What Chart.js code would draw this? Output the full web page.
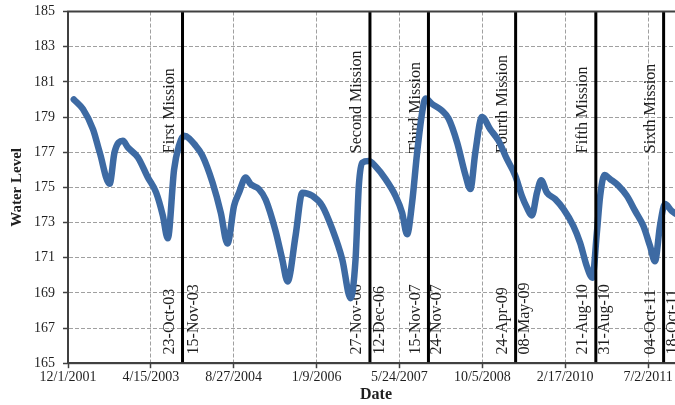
<!DOCTYPE html>
<html lang="en">
<head>
  <meta charset="UTF-8" />
  <title>Water Level</title>
  <script src="https://cdn.jsdelivr.net/npm/chart.js"></script>
  <style>
    html, body {
      margin: 0;
      padding: 0;
      background: #ffffff;
      overflow: hidden;
    }
    .wrap {
      width: 700px;
      height: 405px;
    }
  </style>
</head>
<body>
  <div class="wrap"><canvas id="levelChart"></canvas></div>

  <script>
    // water level readings
    const dates = [
      '2002-01-05', '2002-03-01', '2002-05-01', '2002-06-10', '2002-08-09', '2002-09-08',
      '2002-10-28', '2002-11-27', '2003-01-27', '2003-03-28', '2003-05-17', '2003-06-26',
      '2003-07-26', '2003-09-02', '2003-10-01', '2003-11-01', '2004-01-11', '2004-02-20',
      '2004-04-21', '2004-06-10', '2004-07-20', '2004-08-29', '2004-09-28', '2004-11-07',
      '2004-12-07', '2005-01-26', '2005-03-08', '2005-05-07', '2005-06-16', '2005-07-18',
      '2005-09-04', '2005-10-15', '2005-12-14', '2006-02-12', '2006-04-14', '2006-06-13',
      '2006-08-02', '2006-09-01', '2006-09-21', '2006-10-11', '2006-11-20', '2006-12-30',
      '2007-03-01', '2007-04-30', '2007-06-09', '2007-07-09', '2007-08-08', '2007-09-08',
      '2007-10-08', '2007-10-28', '2007-12-07', '2008-02-05', '2008-03-16', '2008-05-06',
      '2008-06-25', '2008-07-25', '2008-08-24', '2008-10-03', '2008-11-22', '2009-01-11',
      '2009-03-03', '2009-04-22', '2009-06-01', '2009-07-01', '2009-07-31', '2009-08-31',
      '2009-09-25', '2009-10-30', '2009-12-19', '2010-02-07', '2010-04-08', '2010-05-18',
      '2010-06-28', '2010-07-31', '2010-08-27', '2010-09-16', '2010-10-12', '2010-11-15',
      '2011-01-04', '2011-02-24', '2011-04-15', '2011-06-04', '2011-07-14', '2011-08-13',
      '2011-09-12', '2011-10-12', '2011-11-22', '2012-01-20'
    ];
    const levels = [
      180.0, 179.45, 178.3, 177.0, 175.2, 177.0,
      177.65, 177.27, 176.7, 175.56, 174.7, 173.4,
      172.1, 176.0, 177.36, 177.93, 177.36, 176.8,
      175.27, 173.56, 171.8, 173.95, 174.7, 175.56,
      175.18, 174.9, 174.3, 172.5, 170.9, 169.65,
      172.24, 174.7, 174.52, 173.95, 172.62, 170.9,
      168.7, 170.9, 175.1, 176.4, 176.5, 176.2,
      175.47, 174.52, 173.56, 172.33, 174.1, 177.0,
      179.26, 180.05, 179.74, 179.36, 178.9, 177.55,
      175.7, 174.9, 177.0, 179.0, 178.3, 177.65,
      176.6, 175.66, 174.5, 173.85, 173.4, 174.7,
      175.4, 174.7, 174.33, 173.76, 172.8, 171.85,
      170.5, 169.86, 172.4, 174.5, 175.7, 175.47,
      175.1, 174.52, 173.66, 172.8, 171.66, 170.8,
      172.8, 174.05, 173.66, 173.3
    ];

    const xTickLabels = ['12/1/2001', '4/15/2003', '8/27/2004', '1/9/2006', '5/24/2007', '10/5/2008', '2/17/2010', '7/2/2011'];
    const xEnd = '2/4/2012';
    const yMin = 165, yMax = 185, yStep = 2;

    const missionNames = ['First Mission', 'Second Mission', 'Third Mission', 'Fourth Mission', 'Fifth Mission', 'Sixth Mission'];
    const missionStart = ['2003-10-23', '2006-11-27', '2007-11-15', '2009-04-24', '2010-08-21', '2011-10-04'];
    const missionEnd = ['2003-11-15', '2006-12-12', '2007-11-24', '2009-05-08', '2010-08-31', '2011-10-18'];
    const startLabels = ['23-Oct-03', '27-Nov-06', '15-Nov-07', '24-Apr-09', '21-Aug-10', '04-Oct-11'];
    const endLabels = ['15-Nov-03', '12-Dec-06', '24-Nov-07', '08-May-09', '31-Aug-10', '18-Oct-11'];

    // spreadsheet-style day numbers
    function isoToSerial(s) {
      const [y, m, d] = s.split('-').map(Number);
      return Date.UTC(y, m - 1, d) / 86400000 + 25569;
    }
    function mdyToSerial(s) {
      const [m, d, y] = s.split('/').map(Number);
      return Date.UTC(y, m - 1, d) / 86400000 + 25569;
    }
    function serialToMdy(v) {
      const dt = new Date((v - 25569) * 86400000);
      return (dt.getUTCMonth() + 1) + '/' + dt.getUTCDate() + '/' + dt.getUTCFullYear();
    }

    const serif = "'Liberation Serif', 'Times New Roman', serif";
    const textColor = '#1f1f1f';
    const axisColor = '#404040';

    Chart.defaults.font.family = serif;
    Chart.defaults.color = textColor;

    const missionMarks = {
      id: 'missionMarks',
      beforeDatasetsDraw(chart) {
        const { ctx, scales: { x, y } } = chart;
        ctx.save();
        ctx.font = '16px ' + serif;
        ctx.fillStyle = textColor;
        ctx.textAlign = 'left';
        ctx.textBaseline = 'middle';
        const put = (text, px, py) => {
          ctx.save();
          ctx.translate(px, py);
          ctx.rotate(-Math.PI / 2);
          ctx.fillText(text, 0, 0);
          ctx.restore();
        };
        missionNames.forEach((name, i) => {
          const sx = x.getPixelForValue(isoToSerial(missionStart[i]));
          const ex = x.getPixelForValue(isoToSerial(missionEnd[i]));
          put(name, sx - 13, y.getPixelForValue(177) + 1);
          put(startLabels[i], sx - 13, y.getPixelForValue(165.5));
          put(endLabels[i], ex + 7, y.getPixelForValue(165.5));
        });
        ctx.restore();
      },
      afterDatasetsDraw(chart) {
        const { ctx, chartArea: a, scales: { x } } = chart;
        ctx.save();
        ctx.strokeStyle = '#000000';
        ctx.lineWidth = 3;
        missionStart.forEach(d => {
          const px = x.getPixelForValue(isoToSerial(d));
          ctx.beginPath();
          ctx.moveTo(px, a.top);
          ctx.lineTo(px, a.bottom);
          ctx.stroke();
        });
        ctx.strokeStyle = axisColor;
        ctx.lineWidth = 2;
        ctx.strokeRect(a.left, a.top, a.right - a.left, a.bottom - a.top);
        ctx.restore();
      }
    };

    const ctx = document.getElementById('levelChart').getContext('2d');
    new Chart(ctx, {
      type: 'line',
      data: {
        datasets: [{
          label: 'Water Level',
          data: dates.map((d, i) => ({ x: isoToSerial(d), y: levels[i] })),
          borderColor: '#3d6aa3',
          borderWidth: 6.5,
          pointRadius: 0,
          cubicInterpolationMode: 'monotone',
          borderCapStyle: 'round',
          borderJoinStyle: 'round',
          fill: false
        }]
      },
      options: {
        responsive: true,
        maintainAspectRatio: false,
        animation: false,
        layout: { padding: { left: 0, top: 6, right: 16, bottom: 2 } },
        plugins: {
          legend: { display: false },
          tooltip: { enabled: false }
        },
        scales: {
          x: {
            type: 'linear',
            min: mdyToSerial(xTickLabels[0]),
            max: mdyToSerial(xEnd),
            afterBuildTicks: scale => {
              scale.ticks = xTickLabels.map(l => ({ value: mdyToSerial(l) }));
            },
            ticks: {
              autoSkip: false,
              maxRotation: 0,
              padding: 1,
              color: textColor,
              font: { size: 14 },
              callback: v => serialToMdy(v)
            },
            grid: { color: '#a0a0a0', lineWidth: 1, tickLength: 5, tickColor: axisColor, tickWidth: 1.5 },
            border: { color: axisColor, width: 2, dash: [4, 2] },
            title: {
              display: true,
              text: 'Date',
              color: textColor,
              font: { size: 16, weight: 'bold', lineHeight: 1 },
              padding: { top: 0, bottom: 0 }
            }
          },
          y: {
            min: yMin,
            max: yMax,
            ticks: {
              stepSize: yStep,
              padding: 8,
              color: textColor,
              font: { size: 14, lineHeight: 0.5 }
            },
            grid: { color: '#a0a0a0', lineWidth: 1, tickLength: 5, tickColor: axisColor, tickWidth: 1.5 },
            border: { color: axisColor, width: 2, dash: [4, 2] },
            title: {
              display: true,
              text: 'Water Level',
              color: textColor,
              font: { size: 15, weight: 'bold' },
              padding: { top: 8, bottom: 0 }
            }
          }
        }
      },
      plugins: [missionMarks]
    });
  </script>
</body>
</html>
